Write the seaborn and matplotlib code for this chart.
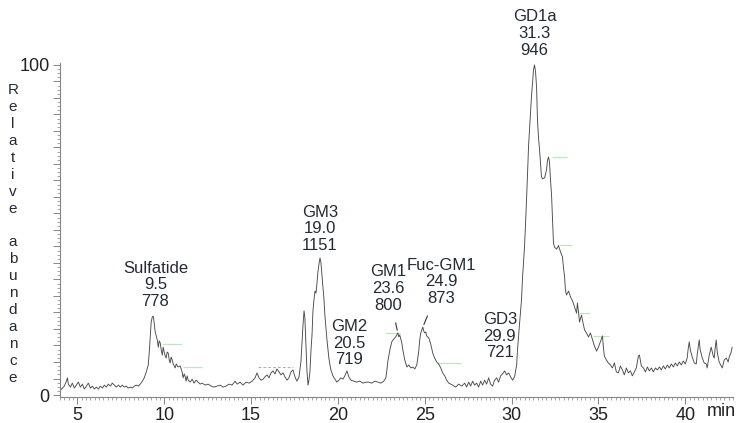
import numpy as np
import seaborn as sns
import matplotlib.pyplot as plt
from matplotlib.ticker import MultipleLocator, FuncFormatter

# chromatogram trace (time in min, relative abundance in %)
time = [4.02, 4.14, 4.25, 4.37, 4.43, 4.48, 4.60, 4.71, 4.83, 4.94, 5.06, 5.17, 5.29, 5.40, 5.52,
        5.63, 5.75, 5.86, 5.98, 6.09, 6.21, 6.32, 6.44, 6.55, 6.67, 6.78, 6.90, 7.01, 7.13, 7.24,
        7.36, 7.47, 7.59, 7.70, 7.82, 7.93, 8.05, 8.16, 8.28, 8.39, 8.51, 8.62, 8.74, 8.85, 8.97,
        9.08, 9.14, 9.20, 9.25, 9.31, 9.37, 9.43, 9.48, 9.60, 9.66, 9.71, 9.77, 9.83, 9.89, 9.94,
        10.00, 10.06, 10.11, 10.17, 10.23, 10.29, 10.34, 10.40, 10.46, 10.52, 10.63, 10.69, 10.80,
        10.92, 11.03, 11.09, 11.15, 11.21, 11.26, 11.32, 11.38, 11.49, 11.61, 11.72, 11.84, 11.95,
        12.07, 12.18, 12.36, 12.53, 12.70, 12.87, 13.05, 13.22, 13.39, 13.56, 13.74, 13.91, 14.08,
        14.20, 14.37, 14.54, 14.71, 14.89, 15.06, 15.23, 15.34, 15.46, 15.57, 15.69, 15.80, 15.92,
        16.03, 16.15, 16.26, 16.38, 16.49, 16.61, 16.72, 16.84, 16.95, 17.07, 17.18, 17.30, 17.41,
        17.53, 17.64, 17.76, 17.87, 17.99, 18.05, 18.10, 18.16, 18.22, 18.28, 18.33, 18.39, 18.45,
        18.51, 18.56, 18.62, 18.68, 18.74, 18.79, 18.85, 18.91, 18.97, 19.02, 19.08, 19.14, 19.20,
        19.25, 19.31, 19.37, 19.43, 19.48, 19.54, 19.60, 19.71, 19.83, 19.94, 20.06, 20.17, 20.29,
        20.40, 20.52, 20.63, 20.75, 20.92, 21.09, 21.26, 21.44, 21.61, 21.78, 21.95, 22.13, 22.30,
        22.47, 22.64, 22.76, 22.82, 22.87, 22.99, 23.10, 23.22, 23.33, 23.45, 23.51, 23.56, 23.68,
        23.74, 23.85, 23.97, 24.08, 24.20, 24.31, 24.43, 24.54, 24.60, 24.66, 24.71, 24.77, 24.83,
        24.89, 24.94, 25.00, 25.06, 25.11, 25.23, 25.34, 25.46, 25.57, 25.69, 25.80, 25.92, 26.03,
        26.15, 26.26, 26.38, 26.49, 26.61, 26.78, 26.95, 27.13, 27.30, 27.41, 27.53, 27.64, 27.76,
        27.87, 27.99, 28.10, 28.22, 28.33, 28.45, 28.56, 28.68, 28.79, 28.91, 29.02, 29.14, 29.25,
        29.37, 29.48, 29.60, 29.71, 29.83, 29.94, 30.06, 30.17, 30.29, 30.34, 30.46, 30.57, 30.63,
        30.75, 30.80, 30.86, 30.98, 31.09, 31.15, 31.21, 31.26, 31.32, 31.38, 31.44, 31.49, 31.55,
        31.61, 31.67, 31.72, 31.78, 31.90, 32.01, 32.07, 32.13, 32.18, 32.24, 32.30, 32.36, 32.41,
        32.47, 32.59, 32.70, 32.82, 32.93, 32.99, 33.05, 33.10, 33.16, 33.28, 33.39, 33.51, 33.62,
        33.74, 33.79, 33.85, 33.91, 34.02, 34.08, 34.20, 34.31, 34.43, 34.54, 34.66, 34.77, 34.89,
        35.00, 35.11, 35.23, 35.29, 35.34, 35.46, 35.57, 35.69, 35.80, 35.92, 36.03, 36.15, 36.26,
        36.38, 36.49, 36.61, 36.72, 36.84, 36.95, 37.07, 37.18, 37.30, 37.36, 37.47, 37.59, 37.70,
        37.82, 37.93, 38.05, 38.16, 38.28, 38.39, 38.51, 38.62, 38.74, 38.85, 38.97, 39.08, 39.20,
        39.31, 39.43, 39.54, 39.66, 39.77, 39.89, 40.00, 40.11, 40.17, 40.23, 40.29, 40.40, 40.52,
        40.63, 40.69, 40.80, 40.86, 40.98, 41.09, 41.21, 41.26, 41.38, 41.49, 41.61, 41.67, 41.72,
        41.78, 41.84, 41.95, 42.07, 42.13, 42.24, 42.36, 42.47, 42.53, 42.64, 42.70]

abundance = [1.5, 2.1, 2.7, 4.2, 5.2, 3.3, 2.4, 3.6, 2.1, 3.0, 3.9, 2.4, 3.3, 1.8, 2.7,
             3.6, 2.1, 2.7, 1.8, 2.4, 1.8, 2.7, 2.1, 3.0, 2.4, 3.3, 2.7, 3.6, 3.0, 2.4,
             3.0, 2.4, 3.0, 2.4, 2.7, 2.1, 2.4, 2.1, 2.7, 3.0, 2.7, 3.3, 4.2, 5.2, 7.0,
             9.1, 13.0, 18.2, 22.1, 23.6, 23.9, 21.5, 19.1, 16.7, 14.5, 16.4, 15.8, 13.6, 12.1, 14.5,
             13.0, 11.8, 11.2, 13.0, 12.7, 10.6, 9.7, 11.5, 10.6, 9.4, 8.2, 9.4, 8.5,
             8.8, 7.0, 5.2, 6.4, 5.5, 4.2, 5.8, 4.5, 3.9, 4.8, 3.6, 4.5, 3.9,
             3.3, 3.6, 3.0, 3.3, 2.7, 2.4, 2.7, 3.0, 2.4, 2.7, 3.3, 3.0, 4.2,
             3.3, 3.9, 3.0, 3.9, 3.6, 4.2, 5.2, 6.7, 5.2, 4.5, 4.8, 5.5, 6.1,
             5.2, 6.7, 7.3, 6.4, 7.9, 7.0, 6.1, 6.7, 5.5, 4.5, 5.2, 7.0, 7.6,
             5.5, 4.2, 5.5, 10.0, 21.2, 25.5, 23.3, 15.2, 7.0, 3.0, 4.5, 7.0, 13.6,
             18.2, 25.2, 28.8, 31.5, 30.9, 33.6, 37.3, 39.7, 41.5, 40.3, 36.4, 32.4, 28.8,
             24.2, 20.3, 16.7, 13.6, 11.2, 9.1, 7.6, 5.8, 4.8, 3.9, 4.5, 5.2, 4.8,
             5.8, 7.3, 5.5, 4.5, 4.2, 3.9, 4.2, 3.6, 3.9, 3.9, 3.6, 4.2, 3.9,
             3.6, 4.2, 5.2, 7.6, 10.0, 13.6, 16.1, 17.0, 17.6, 18.8, 17.6, 18.2, 15.8,
             13.6, 10.6, 8.5, 9.1, 8.2, 8.5, 7.9, 9.1, 11.2, 13.6, 16.7, 18.8, 19.7,
             20.6, 19.4, 18.8, 19.1, 17.9, 17.3, 15.5, 12.7, 11.2, 10.0, 9.4, 8.2, 6.7,
             5.8, 4.5, 3.6, 3.3, 3.0, 2.4, 3.3, 2.7, 3.6, 2.4, 3.9, 2.7, 4.2,
             3.0, 3.6, 2.4, 4.2, 3.0, 4.5, 3.3, 5.2, 3.3, 2.7, 4.5, 5.2, 3.9,
             5.8, 6.4, 7.3, 6.1, 6.7, 5.5, 4.5, 5.5, 9.1, 13.6, 21.8, 28.8, 35.5,
             45.5, 51.5, 59.1, 75.8, 85.8, 90.9, 94.8, 98.5, 100.0, 97.9, 93.0, 83.3, 77.9,
             74.2, 69.7, 66.1, 65.5, 65.8, 68.2, 71.2, 72.1, 70.6, 65.2, 60.6, 53.0, 46.1,
             44.8, 44.2, 45.2, 43.3, 41.8, 38.5, 35.8, 31.8, 30.3, 31.5, 29.7, 28.5, 26.7,
             24.8, 27.9, 25.2, 22.1, 24.2, 22.7, 19.7, 18.8, 17.6, 18.8, 16.7, 14.8, 13.3,
             14.5, 16.1, 17.9, 14.2, 11.8, 10.6, 9.7, 9.1, 8.2, 9.7, 7.0, 6.7, 8.8,
             7.6, 6.1, 8.2, 6.7, 7.3, 5.8, 7.0, 8.2, 11.8, 12.1, 8.8, 8.2, 7.0,
             8.5, 7.3, 8.2, 7.0, 8.2, 7.6, 8.5, 7.6, 8.8, 7.9, 9.1, 8.2, 9.4,
             8.5, 9.7, 8.8, 10.0, 9.1, 10.3, 9.4, 11.2, 14.2, 16.1, 13.6, 11.5, 9.7,
             9.4, 12.4, 16.7, 13.6, 11.2, 9.7, 9.4, 8.2, 12.1, 14.5, 11.8, 11.2, 14.2,
             16.7, 13.0, 10.0, 8.8, 8.2, 10.6, 11.2, 10.0, 11.5, 13.0, 14.5]

# peak annotations
peak_names = ['Sulfatide', 'GM3', 'GM2', 'GM1', 'Fuc-GM1', 'GD3', 'GD1a']
peak_rt = ['9.5', '19.0', '20.5', '23.6', '24.9', '29.9', '31.3']
peak_mz = ['778', '1151', '719', '800', '873', '721', '946']
peak_apex = [9.37, 18.97, 20.52, 23.45, 24.89, 29.60, 31.32]
peak_leader = [False, False, False, True, True, False, False]

# faint green level marks left by the data system
mark_start = [9.89, 11.09, 22.70, 25.75, 32.30, 32.60, 33.90, 34.70]
mark_end = [11.03, 12.18, 23.56, 27.10, 33.20, 33.50, 34.50, 35.60]
mark_level = [15.5, 8.5, 18.8, 9.7, 72.0, 45.5, 24.8, 18.0]

sns.set_style('ticks')
plt.rcParams['font.family'] = ['Liberation Sans', 'DejaVu Sans']

fig = plt.figure(figsize=(7.38, 4.23), dpi=100)
ax = fig.add_axes([0.0813, 0.0615, 0.912, 0.7896])

ax.hlines(mark_level, mark_start, mark_end, colors='#bfe6bf', lw=0.9, zorder=1)
ax.hlines([8.5], [15.4], [17.4], colors='#b0b0b0', lw=0.7, linestyles=(0, (3, 2)), zorder=1)

sns.lineplot(x=time, y=abundance, ax=ax, color='#4a4a4a', lw=0.65,
             estimator=None, sort=False, zorder=2)

ax.set_xlim(4.0, 42.75)
ax.set_ylim(-0.6, 100.6)

# label offsets in points (dx, dy) from the apex
offsets = [(1.5, 5), (0, 3.5), (1.5, 2.5), (-7, 14.5), (13.5, 15), (-3.5, 7.5), (0, 5)]
label_color = '#232a36'
for name, rt, mz, apex, lead, off in zip(peak_names, peak_rt, peak_mz, peak_apex,
                                         peak_leader, offsets):
    top = np.interp(apex, time, abundance)
    props = dict(arrowstyle='-', color='#333333', lw=0.8, shrinkA=5, shrinkB=2) if lead else None
    ax.annotate(f'{name}\n{rt}\n{mz}', xy=(apex, top), xytext=off, textcoords='offset points',
                ha='center', va='bottom', fontsize=12, color=label_color,
                linespacing=1.15, arrowprops=props)

sns.despine(ax=ax)
for side in ['left', 'bottom']:
    ax.spines[side].set_color('#858585')
    ax.spines[side].set_linewidth(0.8)

ax.xaxis.set_major_locator(MultipleLocator(5))
ax.xaxis.set_minor_locator(MultipleLocator(0.25))
ax.yaxis.set_major_locator(MultipleLocator(5))
ax.yaxis.set_minor_locator(MultipleLocator(1.25))
ax.yaxis.set_major_formatter(FuncFormatter(lambda v, p: f'{v:.0f}' if v in (0, 100) else ''))
ax.set_xticks([5, 10, 15, 20, 25, 30, 35, 40])
ax.tick_params(which='major', length=5, width=0.7, color='#858585', labelsize=13,
               labelcolor='#222222', pad=2.5)
ax.tick_params(which='minor', length=2.5, width=0.6, color='#9a9a9a')

ax.set_xlabel('')
ax.set_ylabel('\n'.join('Relative abundance'), rotation=0, fontsize=11,
              color=label_color, va='center', ha='center', linespacing=1.27)
ax.yaxis.set_label_coords(-0.070, 0.488)
ax.text(0.982, -0.042, 'min', transform=ax.transAxes, ha='center', va='center',
        fontsize=13, color='#222222')

fig.savefig('out.png', dpi=100)
